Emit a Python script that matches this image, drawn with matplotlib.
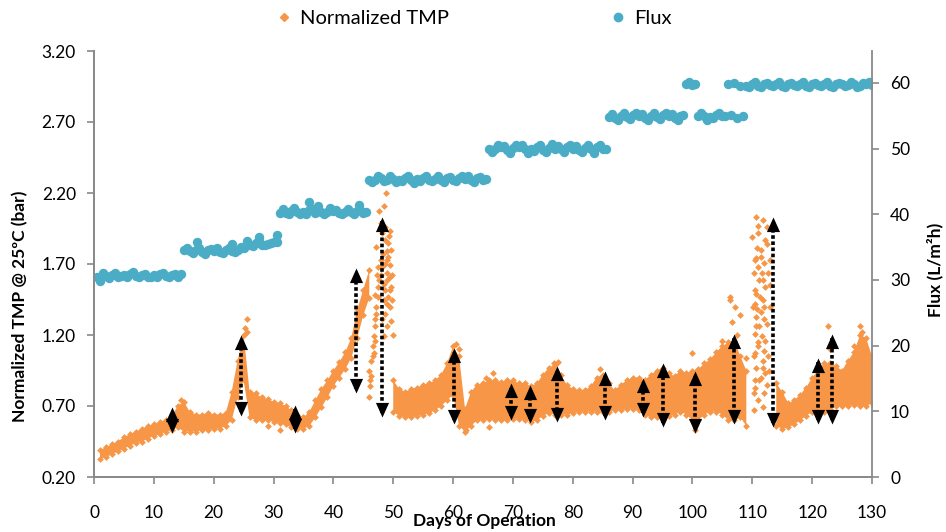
import numpy as np
import matplotlib
matplotlib.use('Agg')
import matplotlib.pyplot as plt
from matplotlib.lines import Line2D
from matplotlib.path import Path

nan = np.nan

# Daily TMP band (bar): lowest and highest reading of each day, days 1..130
tmp_days = list(range(1, 131))
tmp_lo = [
    0.33, 0.34, 0.36, 0.38, 0.40, 0.42, 0.44, 0.45, 0.47, 0.49,
    0.50, 0.52, 0.53, 0.55, 0.52, 0.52, 0.52, 0.53, 0.53, 0.54,
    0.54, 0.56, 0.60, 0.76, 0.88, 0.62, 0.60, 0.60, 0.60, 0.59,
    0.58, 0.57, 0.55, 0.54, 0.54, 0.56, 0.62, 0.69, 0.76, 0.84,
    0.90, 0.96, 1.04, 1.18, 1.34, 1.46, nan, nan, nan, 0.66,
    0.63, 0.62, 0.62, 0.63, 0.64, 0.65, 0.67, 0.70, 0.74, 0.78,
    0.56, 0.52, 0.56, 0.60, 0.60, 0.61, 0.60, 0.60, 0.60, 0.61,
    0.61, 0.60, 0.59, 0.60, 0.63, 0.65, 0.64, 0.64, 0.64, 0.65,
    0.66, 0.66, 0.66, 0.66, 0.66, 0.66, 0.67, 0.67, 0.68, 0.68,
    0.67, 0.64, 0.62, 0.62, 0.61, 0.63, 0.64, 0.66, 0.64, 0.60,
    0.60, 0.64, 0.66, 0.66, 0.64, 0.60, 0.60, 0.62, 0.56, nan,
    nan, nan, nan, 0.56, 0.54, 0.55, 0.57, 0.60, 0.63, 0.66,
    0.66, 0.66, 0.68, 0.70, 0.70, 0.70, 0.71, 0.70, 0.70, 0.72]
tmp_hi = [
    0.39, 0.41, 0.43, 0.45, 0.48, 0.50, 0.52, 0.54, 0.56, 0.57,
    0.59, 0.60, 0.63, 0.70, 0.73, 0.66, 0.64, 0.64, 0.65, 0.64,
    0.64, 0.65, 0.80, 1.02, 1.20, 0.80, 0.79, 0.76, 0.75, 0.73,
    0.72, 0.70, 0.67, 0.64, 0.62, 0.66, 0.74, 0.82, 0.88, 0.95,
    1.01, 1.08, 1.18, 1.38, 1.52, 1.66, nan, nan, nan, 0.88,
    0.82, 0.80, 0.82, 0.83, 0.85, 0.86, 0.88, 0.92, 1.00, 1.12,
    1.05, 0.68, 0.80, 0.85, 0.86, 0.88, 0.88, 0.87, 0.88, 0.88,
    0.86, 0.86, 0.84, 0.86, 0.92, 0.97, 0.99, 0.92, 0.85, 0.82,
    0.81, 0.81, 0.84, 0.90, 0.92, 0.86, 0.81, 0.85, 0.88, 0.90,
    0.90, 0.88, 0.92, 0.95, 0.97, 0.93, 0.91, 0.95, 0.93, 0.95,
    0.96, 1.00, 1.03, 1.08, 1.12, 1.15, 1.16, 1.05, 0.95, nan,
    nan, nan, nan, 0.86, 0.80, 0.72, 0.74, 0.78, 0.83, 0.90,
    0.95, 1.00, 1.00, 0.98, 0.95, 1.02, 1.08, 1.20, 1.18, 1.05]

# Scattered TMP readings (fouling spikes and outliers)
tmp_pt_day = [
    46.0, 46.3, 46.6, 46.7, 46.8, 47.0, 47.0, 47.2, 47.1, 47.5, 47.5, 47.6, 47.5, 47.2,
    47.7, 48.5, 48.8, 49.5, 49.2, 49.0, 48.7, 49.5, 49.4, 49.0, 49.6, 49.2, 48.5, 49.5,
    48.7, 48.2, 49.0, 48.5, 47.0, 46.8, 46.3, 46.0, 46.2, 46.1, 49.0, 48.2, 49.7, 49.2,
    48.7, 48.2, 47.9, 49.5, 48.6, 48.0, 48.3, 48.9, 49.3, 48.6, 49.8, 49.8, 48.9, 48.4,
    47.9, 47.3, 46.9, 49.6, 49.9,
    110.6, 111.8, 111.0, 112.2, 111.4, 110.4, 112.0, 111.2, 112.2, 110.6, 111.8, 110.4,
    110.6, 112.0, 111.2, 110.4, 112.2, 111.0, 110.4, 111.8, 110.6, 112.2, 111.2, 110.4,
    112.0, 111.0, 110.2, 111.8, 111.4, 110.2, 112.5, 110.0, 110.7, 110.8, 112.4, 110.1,
    110.5, 110.6, 110.3, 110.5, 110.3, 111.8, 112.0, 111.6, 112.0, 111.8, 111.5, 112.9,
    112.9, 112.9, 111.0, 110.9, 111.6, 110.8, 111.3, 112.6, 112.5, 112.7, 112.4, 110.9,
    111.5, 112.8,
    14.6, 25.3, 25.6, 25.5, 31.0, 29.0, 60.5, 61.0, 62.2, 66.0, 65.5, 66.6, 76.8, 77.5,
    84.5, 100.0, 100.5, 104.6, 105.0, 106.2, 106.3, 106.6, 107.1, 107.9, 109.0, 107.5,
    122.6, 128.0, 128.3, 127.0, 123.0]
tmp_pt_val = [
    0.76, 0.91, 1.05, 1.12, 1.19, 1.26, 1.31, 1.35, 1.40, 1.47, 1.54, 1.59, 1.68, 1.82,
    2.07, 2.11, 2.20, 1.93, 1.85, 1.79, 1.70, 1.69, 1.61, 1.59, 1.54, 1.47, 1.45, 1.40,
    1.35, 1.31, 1.26, 1.19, 1.16, 1.07, 1.02, 0.95, 0.88, 0.84, 1.73, 1.68, 1.80, 1.75,
    1.87, 1.92, 1.99, 1.52, 1.52, 1.62, 1.77, 1.64, 1.90, 1.96, 1.62, 1.45, 1.42, 1.56,
    1.73, 1.62, 1.48, 1.30, 1.20,
    2.03, 2.01, 1.92, 1.87, 1.80, 1.73, 1.71, 1.59, 1.54, 1.49, 1.45, 1.42,
    1.33, 1.31, 1.26, 1.21, 1.16, 1.12, 1.07, 1.02, 0.97, 0.93, 0.88, 0.83,
    0.79, 0.74, 0.67, 0.69, 1.75, 1.64, 1.96, 1.89, 1.74, 1.81, 1.84, 1.40,
    1.52, 1.26, 1.05, 0.88, 0.79, 1.59, 1.40, 1.19, 1.09, 0.97, 0.90, 1.40,
    1.55, 1.73, 1.97, 1.68, 1.64, 1.38, 1.47, 1.64, 1.28, 1.05, 0.85, 1.15,
    1.36, 0.95,
    0.74, 1.25, 1.31, 1.22, 0.53, 0.56, 1.14, 1.10, 0.53, 0.55, 0.90, 0.93, 1.00, 1.01,
    0.96, 1.07, 0.53, 1.09, 1.16, 1.45, 1.47, 1.29, 1.40, 1.34, 1.04, 1.20,
    1.26, 1.26, 1.22, 1.12, 1.10]

# Flux (L/m2h): reading "a" at each day, reading "b" half a day earlier
flux_days = list(range(1, 131))
flux_a = [
    29.8, 30.6, 30.8, 30.5, 30.7, 30.9, 30.6, 30.8, 30.5, 30.7,
    30.9, 30.6, 30.8, 30.5, 34.5, 34.4, 34.6, 34.2, 34.5, 34.4,
    34.3, 34.6, 34.4, 34.5, 34.8, 35.4, 35.6, 35.3, 35.5, 35.8,
    40.2, 40.2, 40.5, 40.3, 40.4, 40.6, 40.2, 40.4, 40.3, 40.5,
    40.2, 40.4, 40.3, 40.5, 40.2, 45.2, 45.3, 45.5, 45.2, 45.4,
    45.3, 45.6, 45.2, 45.4, 45.5, 45.3, 45.4, 45.2, 45.6, 45.3,
    45.5, 45.4, 45.2, 45.5, 45.3, 50.0, 50.0, 50.3, 49.8, 50.1,
    50.2, 49.9, 50.0, 50.3, 49.8, 50.1, 50.0, 49.9, 50.2, 50.0,
    49.8, 50.1, 50.0, 50.2, 49.9, 54.8, 54.7, 55.0, 54.8, 55.1,
    54.9, 54.6, 55.0, 54.8, 55.2, 54.9, 54.7, 55.0, 59.8, 59.7,
    55.0, 55.0, 54.8, 55.1, 54.9, 59.8, 60.0, 59.6, 59.6, 59.8,
    59.6, 59.9, 59.7, 59.8, 59.6, 59.9, 59.7, 59.8, 59.6, 59.9,
    59.7, 59.8, 59.6, 59.9, 59.8, 59.7, 59.9, 59.6, 59.8, 59.7]
flux_b = [
    30.4, 31.1, 30.3, 31.0, 30.6, 30.4, 31.2, 30.5, 30.9, 30.4,
    30.5, 31.0, 30.4, 30.9, 30.9, 34.9, 34.1, 34.8, 34.0, 34.7,
    34.8, 34.1, 34.9, 34.2, 35.0, 35.9, 35.2, 36.1, 35.4, 35.6,
    35.8, 40.8, 40.0, 40.9, 40.1, 40.0, 40.8, 41.2, 40.1, 40.9,
    40.7, 40.0, 40.8, 40.1, 40.7, 40.4, 44.9, 45.9, 45.0, 45.8,
    44.9, 45.1, 45.9, 44.8, 45.0, 45.8, 45.0, 45.9, 44.9, 45.7,
    45.0, 45.8, 45.9, 44.9, 45.7, 45.4, 49.5, 50.6, 50.4, 49.4,
    50.6, 50.5, 49.4, 49.6, 50.5, 49.5, 50.7, 50.4, 49.5, 50.6,
    50.4, 49.5, 50.6, 49.4, 50.5, 50.0, 55.3, 54.4, 55.4, 54.5,
    55.4, 55.3, 54.4, 55.5, 54.5, 55.4, 55.3, 54.4, 55.1, 60.2,
    59.9, 55.4, 54.4, 54.6, 55.4, 55.0, 55.2, 54.7, 55.0, 59.4,
    60.1, 59.4, 60.0, 59.5, 60.1, 59.4, 60.0, 59.5, 60.1, 59.4,
    60.0, 59.5, 60.1, 59.4, 60.0, 59.5, 60.1, 59.4, 60.0, 60.1]
flux_pt_day = [17.2, 30.6, 36.0, 44.2, 23.0, 27.5]
flux_pt_val = [35.8, 36.8, 41.9, 41.4, 35.5, 36.5]

# Arrows marking TMP rise before each cleaning: day, bottom, top (bar)
arrow_day = [13.1, 24.6, 33.6, 43.7, 48.2, 60.1, 69.6, 72.9, 77.3, 85.4,
             91.7, 95.0, 100.5, 106.9, 113.4, 121.0, 123.3]
arrow_lo = [0.51, 0.63, 0.51, 0.79, 0.62, 0.57, 0.60, 0.58, 0.59, 0.60,
            0.62, 0.55, 0.51, 0.57, 0.55, 0.57, 0.57]
arrow_hi = [0.69, 1.20, 0.71, 1.67, 2.03, 1.11, 0.86, 0.85, 0.98, 0.95,
            0.90, 1.00, 0.95, 1.21, 2.03, 1.04, 1.21]

orange = '#F79646'
teal = '#4BACC6'
grey = '#898989'

plt.rcParams['font.family'] = ['Lato', 'DejaVu Sans']

fig = plt.figure(figsize=(9.46, 5.32), dpi=100)
ax = fig.add_axes([94 / 946, 1 - 477 / 532, (872 - 94) / 946, (477 - 51) / 532])
ax2 = ax.twinx()

# TMP band + edge diamonds
lo = np.array(tmp_lo)
hi = np.array(tmp_hi)
ok = ~np.isnan(lo)
ax.fill_between(tmp_days, lo, hi, where=ok, color=orange, lw=0, zorder=2)
ax.scatter(tmp_days, lo, marker='D', s=12, color=orange, lw=0, zorder=2)
ax.scatter(tmp_days, hi, marker='D', s=12, color=orange, lw=0, zorder=2)
ax.scatter(tmp_pt_day, tmp_pt_val, marker='D', s=12, color=orange, lw=0, zorder=2)

# flux
ax2.scatter(flux_days, flux_a, marker='o', s=46, color=teal, lw=0)
ax2.scatter(np.array(flux_days) - 0.5, flux_b, marker='o', s=46, color=teal, lw=0)
ax2.scatter(flux_pt_day, flux_pt_val, marker='o', s=46, color=teal, lw=0)

# double arrows: dotted shaft + triangle heads with the tip on the value
head_up = Path([(0, 0), (-0.45, -1), (0.45, -1), (0, 0)])
head_dn = Path([(0, 0), (-0.45, 1), (0.45, 1), (0, 0)])
for d, a, b in zip(arrow_day, arrow_lo, arrow_hi):
    ax.plot([d, d], [a + 0.03, b - 0.03], color='black', lw=2.6, ls=(0, (1, 0.7)),
            dash_capstyle='butt', zorder=5)
    ax.plot(d, b, marker=head_up, ms=21, color='black', mew=0, zorder=6)
    ax.plot(d, a, marker=head_dn, ms=21, color='black', mew=0, zorder=6)

ax.set_xlim(0, 130)
ax.set_ylim(0.2, 3.2)
ax2.set_ylim(0, 60 * 426 / 394)

ax.set_xticks(range(0, 131, 10))
ax.set_yticks(np.arange(0.2, 3.21, 0.5))
ax.set_yticklabels(['%.2f' % v for v in np.arange(0.2, 3.21, 0.5)])
ax2.set_yticks(range(0, 61, 10))

ax.spines['top'].set_visible(False)
ax2.spines['top'].set_visible(False)
for a in (ax, ax2):
    for s in ['left', 'right', 'bottom']:
        a.spines[s].set_color(grey)
        a.spines[s].set_linewidth(1.3)
ax.spines['right'].set_visible(False)

ax.tick_params(axis='x', direction='out', length=5, width=1.2, color=grey,
               labelsize=12.5, pad=15)
ax.tick_params(axis='y', direction='out', length=5, width=1.2, color=grey,
               labelsize=12.5, pad=8)
ax2.tick_params(axis='y', direction='out', length=5, width=1.2, color=grey,
                labelsize=12.5, pad=8)

fig.text(20 / 946, 1 - 306 / 532, 'Normalized TMP @ 25ºC (bar)', rotation=90,
         ha='center', va='center', fontsize=12.5, fontweight='bold')
fig.text(935 / 946, 1 - 270 / 532, 'Flux (L/m²h)', rotation=90,
         ha='center', va='center', fontsize=12.5, fontweight='bold')
fig.text(484 / 946, 1 - 521 / 532, 'Days of Operation',
         ha='center', va='center', fontsize=12.5, fontweight='bold')

handles = [Line2D([], [], ls='none', marker='D', ms=4, color=orange),
           Line2D([], [], ls='none', marker='o', ms=6, color=teal)]
fig.legend(handles, ['Normalized TMP', 'Flux'], loc='center',
           bbox_to_anchor=(474 / 946, 1 - 18 / 532), ncol=2, frameon=False,
           fontsize=14.5, handlelength=0.8, handletextpad=0.4, columnspacing=8)

fig.savefig('out.png', dpi=100)
